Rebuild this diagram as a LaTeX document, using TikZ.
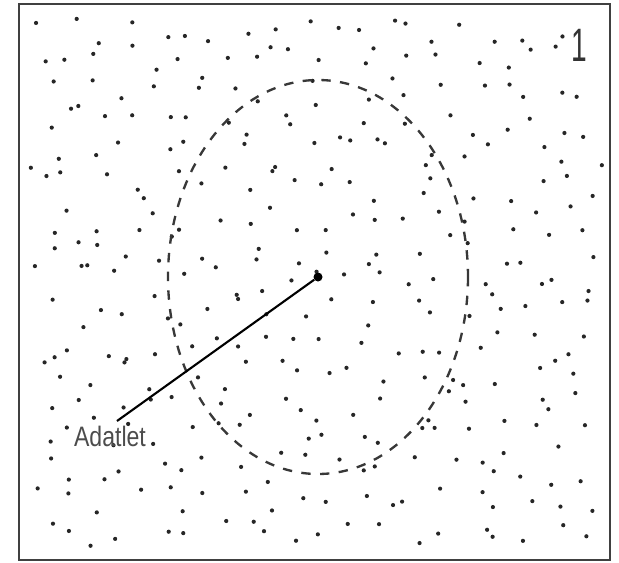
\documentclass[tikz,border=0pt]{standalone}
\usepackage{fontspec}
\setmainfont{Liberation Sans}
\usetikzlibrary{positioning}

\tikzset{
  pt/.style={fill=black!85, draw=none},
  frame/.style={draw=black!75, line width=2.2pt},
}

\begin{document}
\begin{tikzpicture}[x=0.03cm, y=-0.03cm]
  \useasboundingbox (0,0) rectangle (619,563);
  \draw[frame] (19,4) rectangle (610,560);
  % scattered points, jittered grid (kept clear of the number)
  \pgfmathsetseed{2718}
  \foreach \c in {0,...,19} {
    \foreach \r in {0,...,16} {
      \pgfmathsetmacro{\px}{28+28.7*(\c+rnd)}
      \pgfmathsetmacro{\py}{14+31.4*(\r+rnd)}
      \pgfmathparse{and(and(\px>564,\px<594),\py<70) ? 1 : 0}
      \ifnum\pgfmathresult=0
        \fill[pt] (\px,\py) circle (2.1);
      \fi
    }
  }
  % neighbourhood
  \draw[line width=2pt, dash pattern=on 8pt off 8pt, black!78] (318,277) ellipse (150 and 197);
  \node[circle, fill=black, inner sep=0pt, minimum size=9*0.03cm] (ctr) at (318,277) {};
  \coordinate (end) at (117,421);
  \draw[line width=1.8pt] (ctr) -- (end);
  \node[font=\fontsize{24}{24}\selectfont, text=black!70, xscale=0.82, inner sep=0pt] (lbl) at (110,436) {Adatlet};
  \node[font=\fontsize{40}{40}\selectfont, text=black!80, xscale=0.6, inner sep=0pt] (num) at (579,45) {1};
\end{tikzpicture}
\end{document}
